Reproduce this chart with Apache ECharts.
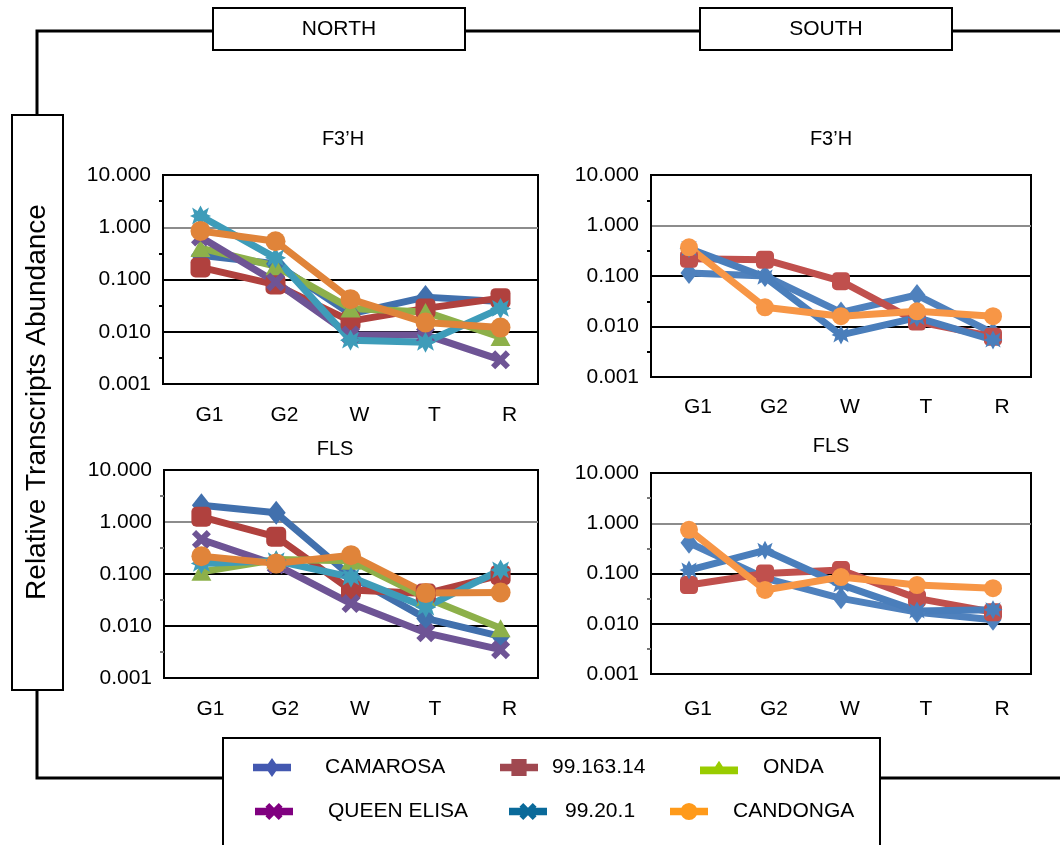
<!DOCTYPE html>
<html>
<head>
<meta charset="utf-8">
<script src="https://cdn.jsdelivr.net/npm/echarts@6/dist/echarts.min.js"></script>
<style>
html,body{margin:0;padding:0;background:#fff;}
#chart{width:1060px;height:845px;}
</style>
</head>
<body>
<div id="chart"></div>
<script>
// ---------- data ----------
const categories = ['G1', 'G2', 'W', 'T', 'R'];
const regionLabels = ['NORTH', 'SOUTH'];
const panelTitles = ['F3’H', 'F3’H', 'FLS', 'FLS'];
const yAxisTitle = 'Relative Transcripts Abundance';
const varieties = ['CAMAROSA', '99.163.14', 'ONDA', 'QUEEN ELISA', '99.20.1', 'CANDONGA'];
// half-decade slots used only for the small minor tick dashes on the value axes
const halfDecadeSlots = ['', '', '', '', '', '', '', '', ''];

// North F3'H
const northF3H_CAMAROSA   = [0.29, 0.20, 0.022, 0.046, 0.038];
const northF3H_99163      = [0.17, 0.08, 0.016, 0.028, 0.044];
const northF3H_ONDA       = [0.40, 0.18, 0.028, 0.024, 0.0079];
const northF3H_QUEEN      = [0.65, 0.09, 0.0087, 0.0087, 0.0029];
const northF3H_99201      = [1.64, 0.26, 0.0069, 0.0063, 0.028];
const northF3H_CANDONGA   = [0.85, 0.54, 0.042, 0.015, 0.012];

// South F3'H
const southF3H_CAMAROSA   = [0.115, 0.10, 0.019, 0.042, 0.0074];
const southF3H_99163      = [0.22, 0.21, 0.079, 0.0125, 0.0063];
const southF3H_99201      = [0.35, 0.095, 0.0068, 0.015, 0.0054];
const southF3H_CANDONGA   = [0.37, 0.024, 0.016, 0.020, 0.016];

// North FLS
const northFLS_CAMAROSA   = [2.1, 1.5, 0.09, 0.014, 0.0063];
const northFLS_99163      = [1.26, 0.52, 0.049, 0.042, 0.095];
const northFLS_ONDA       = [0.11, 0.19, 0.18, 0.035, 0.0091];
const northFLS_QUEEN      = [0.46, 0.15, 0.027, 0.0074, 0.0035];
const northFLS_99201      = [0.16, 0.18, 0.087, 0.023, 0.12];
const northFLS_CANDONGA   = [0.22, 0.16, 0.23, 0.043, 0.044];

// South FLS
const southFLS_CAMAROSA   = [0.41, 0.081, 0.032, 0.017, 0.012];
const southFLS_99163      = [0.059, 0.10, 0.117, 0.032, 0.017];
const southFLS_99201      = [0.117, 0.29, 0.06, 0.018, 0.019];
const southFLS_CANDONGA   = [0.74, 0.047, 0.085, 0.059, 0.051];

// ---------- styles ----------
const FONT = 'Liberation Sans';
const northColors = {
  'CAMAROSA': '#4170AD', '99.163.14': '#B0413E', 'ONDA': '#8DB04A',
  'QUEEN ELISA': '#6E5495', '99.20.1': '#3E9CB9', 'CANDONGA': '#E0843A'
};
const southColors = {
  'CAMAROSA': '#4F81BD', '99.163.14': '#C0504D', '99.20.1': '#4A7EBB', 'CANDONGA': '#F79646'
};
const legendColors = {
  'CAMAROSA': '#4358B0', '99.163.14': '#A04850', 'ONDA': '#99CC00',
  'QUEEN ELISA': '#800080', '99.20.1': '#0A6A9A', 'CANDONGA': '#FF9A1A'
};
const xPath = 'path://M0,2.2L2.2,0L5,2.8L7.8,0L10,2.2L7.2,5L10,7.8L7.8,10L5,7.2L2.2,10L0,7.8L2.8,5Z';
const starPath = 'path://M5,0L6.4,2.6L9,1L8,4L10,5L8,6L9,9L6.4,7.4L5,10L3.6,7.4L1,9L2,6L0,5L2,4L1,1L3.6,2.6Z';
const symbols = {
  'CAMAROSA': ['diamond', [19, 24]],
  '99.163.14': ['roundRect', [20, 20]],
  'ONDA': ['triangle', [20, 18]],
  'QUEEN ELISA': [xPath, [19, 19]],
  '99.20.1': [starPath, [21, 21]],
  'CANDONGA': ['circle', [20, 20]]
};
const legendIcons = {
  'CAMAROSA': 'path://M0,6L40,6L40,14L0,14ZM13,10L20,0L27,10L20,20Z',
  '99.163.14': 'path://M0,6L40,6L40,14L0,14ZM12,1L28,1L28,19L12,19Z',
  'ONDA': 'path://M0,6L40,6L40,14L0,14ZM12,12L20,0L28,12Z',
  'QUEEN ELISA': 'path://M0,6L40,6L40,14L0,14ZM11,5L15,1L20,6L25,1L29,5L24,10L29,15L25,19L20,14L15,19L11,15L16,10Z',
  '99.20.1': 'path://M0,6L40,6L40,14L0,14ZM11,5L15,1L20,6L25,1L29,5L24,10L29,15L25,19L20,14L15,19L11,15L16,10Z',
  'CANDONGA': 'path://M0,6L40,6L40,14L0,14ZM11,10A9,9 0 1,1 29,10A9,9 0 1,1 11,10Z'
};

// panels: grid boxes
const grids = [
  {left: 163, top: 175, width: 375, height: 209}, // North F3'H
  {left: 651, top: 175, width: 380, height: 202}, // South F3'H
  {left: 164, top: 470, width: 374, height: 208}, // North FLS
  {left: 651, top: 473, width: 380, height: 201}  // South FLS
];
const xLabelMargins = [21, 20, 21, 25];
const minorTickColors = ['#000', '#000', '#777', '#777'];
const titlePos = [[338, 124], [826, 124], [330, 434], [826, 431]];

const panelSeries = [
  {colors: northColors, data: {'CAMAROSA': northF3H_CAMAROSA, '99.163.14': northF3H_99163, 'ONDA': northF3H_ONDA,
    'QUEEN ELISA': northF3H_QUEEN, '99.20.1': northF3H_99201, 'CANDONGA': northF3H_CANDONGA}},
  {colors: southColors, data: {'CAMAROSA': southF3H_CAMAROSA, '99.163.14': southF3H_99163,
    '99.20.1': southF3H_99201, 'CANDONGA': southF3H_CANDONGA}},
  {colors: northColors, data: {'CAMAROSA': northFLS_CAMAROSA, '99.163.14': northFLS_99163, 'ONDA': northFLS_ONDA,
    'QUEEN ELISA': northFLS_QUEEN, '99.20.1': northFLS_99201, 'CANDONGA': northFLS_CANDONGA}},
  {colors: southColors, data: {'CAMAROSA': southFLS_CAMAROSA, '99.163.14': southFLS_99163,
    '99.20.1': southFLS_99201, 'CANDONGA': southFLS_CANDONGA}}
];

const xAxes = [], yAxes = [], minorAxes = [], series = [], titles = [];
grids.forEach((g, i) => {
  xAxes.push({
    type: 'category', gridIndex: i, data: categories, boundaryGap: true,
    axisLine: {show: true, lineStyle: {color: '#000', width: 2}},
    axisTick: {show: false},
    axisLabel: {color: '#000', fontFamily: FONT, fontSize: 21, margin: xLabelMargins[i], padding: [0, 0, 0, 18]},
    splitLine: {show: false}
  });
  yAxes.push({
    type: 'log', gridIndex: i, logBase: 10, min: 0.001, max: 10, splitNumber: 4,
    axisLine: {show: true, lineStyle: {color: '#000', width: 2}},
    axisTick: {show: false},
    axisLabel: {color: '#000', fontFamily: FONT, fontSize: 21, margin: 12,
      formatter: v => Number(v).toFixed(3)},
    splitLine: {show: true, lineStyle: {color: ['#000', '#000', '#000', '#8c8c8c', '#000'], width: 2}}
  });
  minorAxes.push({
    type: 'category', gridIndex: i, data: halfDecadeSlots, boundaryGap: false, position: 'left',
    axisLine: {show: false},
    axisLabel: {show: false},
    splitLine: {show: false},
    axisTick: {show: true, length: 4, interval: (idx) => idx % 2 === 1,
      lineStyle: {color: minorTickColors[i], width: 2}}
  });
  titles.push({
    text: panelTitles[i], left: titlePos[i][0], top: titlePos[i][1], textAlign: 'center',
    textStyle: {fontFamily: FONT, fontSize: 20, fontWeight: 'normal', color: '#000'}
  });
  const p = panelSeries[i];
  const south = (i % 2 === 1);
  varieties.forEach(name => {
    if (!p.data[name]) return;
    const sz = symbols[name][1];
    series.push({
      name: name, type: 'line', xAxisIndex: i, yAxisIndex: i,
      data: p.data[name],
      symbol: symbols[name][0],
      symbolSize: south ? sz.map(s => Math.round(s * 0.9)) : sz,
      showAllSymbol: true,
      lineStyle: {color: p.colors[name], width: 7},
      itemStyle: {color: p.colors[name]},
      emphasis: {disabled: true},
      animation: false
    });
  });
});

// legend: 6 single-item legends laid out in two rows
const legendLayout = {
  'CAMAROSA':    {left: 253, top: 757, pad: 29},
  '99.163.14':   {left: 500, top: 757, pad: 9},
  'ONDA':        {left: 700, top: 757, pad: 20},
  'QUEEN ELISA': {left: 255, top: 801, pad: 30},
  '99.20.1':     {left: 509, top: 801, pad: 13},
  'CANDONGA':    {left: 670, top: 801, pad: 20}
};
const legends = varieties.map(name => ({
  left: legendLayout[name].left, top: legendLayout[name].top,
  itemWidth: 38, itemHeight: 19, padding: 0, selectedMode: false,
  data: [{name: name, icon: legendIcons[name], itemStyle: {color: legendColors[name], borderWidth: 0}}],
  textStyle: {fontFamily: FONT, fontSize: 21, color: '#000', padding: [0, 0, 0, legendLayout[name].pad]}
}));

const LW = 3;
const graphic = [
  // frame lines
  {type: 'polyline', shape: {points: [[37, 115], [37, 31], [213, 31]]}, style: {stroke: '#000', lineWidth: LW, fill: null}},
  {type: 'line', shape: {x1: 465, y1: 31, x2: 700, y2: 31}, style: {stroke: '#000', lineWidth: LW}},
  {type: 'line', shape: {x1: 952, y1: 31, x2: 1060, y2: 31}, style: {stroke: '#000', lineWidth: LW}},
  {type: 'polyline', shape: {points: [[37, 690], [37, 778], [223, 778]]}, style: {stroke: '#000', lineWidth: LW, fill: null}},
  {type: 'line', shape: {x1: 880, y1: 778, x2: 1060, y2: 778}, style: {stroke: '#000', lineWidth: LW}},
  // header boxes
  {type: 'rect', shape: {x: 213, y: 8, width: 252, height: 42}, style: {fill: '#fff', stroke: '#000', lineWidth: 2}},
  {type: 'text', x: 339, y: 29, style: {text: regionLabels[0], fontFamily: FONT, fontSize: 21, fill: '#000', align: 'center', verticalAlign: 'middle'}},
  {type: 'rect', shape: {x: 700, y: 8, width: 252, height: 42}, style: {fill: '#fff', stroke: '#000', lineWidth: 2}},
  {type: 'text', x: 826, y: 29, style: {text: regionLabels[1], fontFamily: FONT, fontSize: 21, fill: '#000', align: 'center', verticalAlign: 'middle'}},
  // left title box
  {type: 'rect', shape: {x: 12, y: 115, width: 51, height: 575}, style: {fill: '#fff', stroke: '#000', lineWidth: 2}},
  {type: 'text', x: 37, y: 402, rotation: Math.PI / 2,
    style: {text: yAxisTitle, fontFamily: FONT, fontSize: 28, fill: '#000', align: 'center', verticalAlign: 'middle'}},
  // legend box
  {type: 'rect', shape: {x: 223, y: 738, width: 657, height: 120}, style: {fill: '#fff', stroke: '#000', lineWidth: 2}, z: -1}
];

const chart = echarts.init(document.getElementById('chart'), null, {renderer: 'canvas'});
chart.setOption({
  backgroundColor: '#fff',
  animation: false,
  title: titles,
  grid: grids.map(g => Object.assign({show: true, borderColor: '#000', borderWidth: 2, backgroundColor: 'transparent', containLabel: false}, g)),
  xAxis: xAxes,
  yAxis: yAxes.concat(minorAxes),
  legend: legends,
  series: series,
  graphic: graphic
});
</script>
</body>
</html>
